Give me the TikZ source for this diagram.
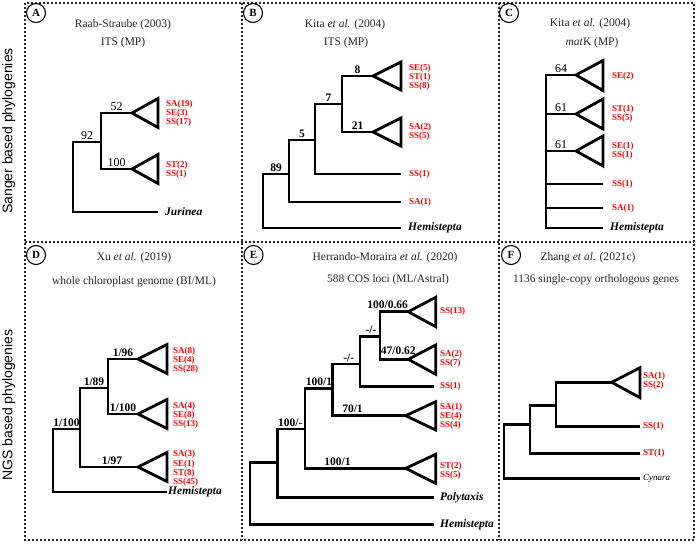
\documentclass[tikz,border=0pt]{standalone}
\usepackage{fontspec}
\setmainfont{Liberation Serif}
\newfontfamily\sidefont{Liberation Sans}
\begin{document}
\begin{tikzpicture}[x=1pt,y=-1pt,
  tbr/.style={line width=2.8pt, line join=miter},
  dashframe/.style={line width=1.2pt, dash pattern=on 2pt off 2pt, black!85},
  clabel/.style={circle, draw, line width=1.1pt, minimum size=19pt, inner sep=0pt, fill=white, font=\bfseries\fontsize{11}{11}\selectfont},
  ttl/.style={inner sep=0pt, text=black!85, font=\fontsize{11.5}{12}\selectfont},
  supr/.style={inner sep=0pt, anchor=base, font=\fontsize{12}{12}\selectfont},
  supb/.style={inner sep=0pt, anchor=base, font=\bfseries\fontsize{11.5}{12}\selectfont},
  redlab/.style={inner sep=0pt, anchor=west, align=left, text=red, font=\bfseries\fontsize{9}{7.8}\selectfont},
  taxon/.style={inner sep=0pt, anchor=west, font=\bfseries\itshape\fontsize{11.5}{12}\selectfont},
  sidelab/.style={inner sep=0pt, rotate=90, anchor=base, font=\sidefont\fontsize{14}{14}\selectfont},
]
\useasboundingbox (0,0) rectangle (700,543);
% ---------- frame ----------
\draw[dashframe] (25,3) rectangle (694,540);
\draw[dashframe] (25,242) -- (694,242);
\draw[dashframe] (242,3) -- (242,540);
\draw[dashframe] (499,3) -- (499,540);
\node[sidelab] (side1) at (12.5,131) {Sanger based phylogenies};
\node[sidelab] (side2) at (12.5,405) {NGS based phylogenies};
% ---------- circle labels ----------
\node[clabel] (lA) at (36,13) {A};
\node[clabel] (lB) at (253,13) {B};
\node[clabel] (lC) at (509,13) {C};
\node[clabel] (lD) at (36,255) {D};
\node[clabel] (lE) at (253.5,255) {E};
\node[clabel] (lF) at (511,255) {F};
% ---------- titles ----------
\node[ttl] (tA1) at (123,25) {Raab-Straube (2003)};
\node[ttl] (tA2) at (123,43) {ITS (MP)};
\node[ttl] (tB1) at (345,25) {Kita \textit{et al.} (2004)};
\node[ttl] (tB2) at (346,43) {ITS (MP)};
\node[ttl] (tC1) at (590,24) {Kita \textit{et al.} (2004)};
\node[ttl] (tC2) at (592,43) {\textit{mat}K (MP)};
\node[ttl] (tD1) at (134,258) {Xu \textit{et al.} (2019)};
\node[ttl] (tD2) at (134,282) {whole chloroplast genome (BI/ML)};
\node[ttl] (tE1) at (385,258) {Herrando-Moraira \textit{et al.} (2020)};
\node[ttl] (tE2) at (388,280) {588 COS loci (ML/Astral)};
\node[ttl] (tF1) at (588,258) {Zhang \textit{et al.} (2021c)};
\node[ttl] (tF2) at (596,280) {1136 single-copy orthologous genes};

% ================= Panel A =================
\coordinate (a-r) at (73,177);
\coordinate (a-n1) at (101,142);
\coordinate (a-jur) at (158,212);
\coordinate (a-t1) at (132,113);
\coordinate (a-t2) at (132,169);
\draw[tbr] (a-n1) -| (a-r) |- (a-jur);
\draw[tbr] (a-t1) -| (a-n1) |- (a-t2);
\draw[tbr] (a-t1) -- (158,98.5) -- (158,127.5) -- cycle;
\draw[tbr] (a-t2) -- (158,154.5) -- (158,183.5) -- cycle;
\node[supr] (a-s92) at (87,139) {92};
\node[supr] (a-s52) at (116.5,110) {52};
\node[supr] (a-s100) at (116.5,166) {100};
\node[redlab] (a-c1) at (166,113) {SA(19)\\SE(3)\\SS(17)};
\node[redlab] (a-c2) at (166,169.5) {ST(2)\\SS(1)};
\node[taxon] (a-jl) at (165,212) {Jurinea};

% ================= Panel B =================
\coordinate (b-r) at (263,200);
\coordinate (b-n89) at (289,174);
\coordinate (b-n5) at (315,140);
\coordinate (b-n7) at (342,104);
\coordinate (b-t8) at (373,76);
\coordinate (b-t21) at (373,132);
\coordinate (b-ss1) at (401,174);
\coordinate (b-sa1) at (401,202);
\coordinate (b-hem) at (401,228);
\draw[tbr] (b-n89) -| (b-r) |- (b-hem);
\draw[tbr] (b-n5) -| (b-n89) |- (b-sa1);
\draw[tbr] (b-n7) -| (b-n5) |- (b-ss1);
\draw[tbr] (b-t8) -| (b-n7) |- (b-t21);
\draw[tbr] (b-t8) -- (401,62) -- (401,90) -- cycle;
\draw[tbr] (b-t21) -- (401,118) -- (401,146) -- cycle;
\node[supb] (b-s89) at (276,171) {89};
\node[supb] (b-s5) at (302,137) {5};
\node[supb] (b-s7) at (328.5,101) {7};
\node[supb] (b-s8) at (357.5,73) {8};
\node[supb] (b-s21) at (357.5,129) {21};
\node[redlab] (b-c1) at (409,77) {SE(5)\\ST(1)\\SS(8)};
\node[redlab] (b-c2) at (409,132) {SA(2)\\SS(5)};
\node[redlab] (b-c3) at (409,174) {SS(1)};
\node[redlab] (b-c4) at (409,202) {SA(1)};
\node[taxon] (b-hl) at (408,228) {Hemistepta};

% ================= Panel C =================
\coordinate (c-r) at (546,150);
\coordinate (c-t1) at (576,75);
\coordinate (c-t2) at (576,114);
\coordinate (c-t3) at (576,151);
\coordinate (c-ss1) at (603,184);
\coordinate (c-sa1) at (603,208);
\coordinate (c-hem) at (603,228);
\draw[tbr] (c-t1) -| (c-r) |- (c-hem);
\draw[tbr] (c-r |- c-t2) -- (c-t2);
\draw[tbr] (c-r |- c-t3) -- (c-t3);
\draw[tbr] (c-r |- c-ss1) -- (c-ss1);
\draw[tbr] (c-r |- c-sa1) -- (c-sa1);
\draw[tbr] (c-t1) -- (603,60.5) -- (603,90.5) -- cycle;
\draw[tbr] (c-t2) -- (603,99) -- (603,129) -- cycle;
\draw[tbr] (c-t3) -- (603,136) -- (603,166) -- cycle;
\node[supr] (c-s64) at (561,72) {64};
\node[supr] (c-s61a) at (561,111) {61};
\node[supr] (c-s61b) at (561,148) {61};
\node[redlab] (c-c1) at (612,76) {SE(2)};
\node[redlab] (c-c2) at (612,114) {ST(1)\\SS(5)};
\node[redlab] (c-c3) at (612,151) {SE(1)\\SS(1)};
\node[redlab] (c-c4) at (612,184) {SS(1)};
\node[redlab] (c-c5) at (612,208) {SA(1)};
\node[taxon] (c-hl) at (610,228) {Hemistepta};

% ================= Panel D =================
\coordinate (d-r) at (53,460);
\coordinate (d-n1) at (80,429);
\coordinate (d-n2) at (108,388);
\coordinate (d-t1) at (138,359);
\coordinate (d-t2) at (138,414);
\coordinate (d-t3) at (138,467);
\coordinate (d-hem) at (167,492);
\draw[tbr] (d-n1) -| (d-r) |- (d-hem);
\draw[tbr] (d-n2) -| (d-n1) |- (d-t3);
\draw[tbr] (d-t1) -| (d-n2) |- (d-t2);
\draw[tbr] (d-t1) -- (167,344.5) -- (167,373.5) -- cycle;
\draw[tbr] (d-t2) -- (167,399.5) -- (167,428.5) -- cycle;
\draw[tbr] (d-t3) -- (167,452.5) -- (167,481.5) -- cycle;
\node[supb] (d-s1) at (66.5,426) {1/100};
\node[supb] (d-s2) at (94,385) {1/89};
\node[supb] (d-s3) at (123,356) {1/96};
\node[supb] (d-s4) at (123,411) {1/100};
\node[supb] (d-s5) at (112,464) {1/97};
\node[redlab] (d-c1) at (173,360) {SA(8)\\SE(4)\\SS(28)};
\node[redlab] (d-c2) at (173,415) {SA(4)\\SE(8)\\SS(13)};
\node[redlab, font=\bfseries\fontsize{9}{7.6}\selectfont] (d-c3) at (173,468.5) {SA(3)\\SE(1)\\ST(8)\\SS(45)};
\node[taxon] (d-hl) at (168,492) {Hemistepta};

% ================= Panel E =================
\coordinate (e-r) at (250,500);
\coordinate (e-n1) at (277.3,462.3);
\coordinate (e-n2) at (305,429);
\coordinate (e-n3) at (332.7,388.3);
\coordinate (e-n4) at (360,364);
\coordinate (e-n5) at (380,336.7);
\coordinate (e-t1) at (408.3,311.7);
\coordinate (e-t2) at (408.3,359.3);
\coordinate (e-t3) at (405.7,415.7);
\coordinate (e-t4) at (405.7,468.3);
\coordinate (e-ss1) at (434.3,386.7);
\coordinate (e-pol) at (434.3,497.7);
\coordinate (e-hem) at (434.3,524.3);
\draw[tbr] (e-n1) -| (e-r) |- (e-hem);
\draw[tbr] (e-n2) -| (e-n1) |- (e-pol);
\draw[tbr] (e-n3) -| (e-n2) |- (e-t4);
\draw[tbr] (e-n4) -| (e-n3) |- (e-t3);
\draw[tbr] (e-n5) -| (e-n4) |- (e-ss1);
\draw[tbr] (e-t1) -| (e-n5) |- (e-t2);
\draw[tbr] (e-t1) -- (435.7,297.3) -- (435.7,326.7) -- cycle;
\draw[tbr] (e-t2) -- (435.7,345) -- (435.7,374.3) -- cycle;
\draw[tbr] (e-t3) -- (435.7,401.7) -- (435.7,430) -- cycle;
\draw[tbr] (e-t4) -- (435.7,454.3) -- (435.7,483.3) -- cycle;
\node[supb] (e-s1) at (290.3,426) {100/-};
\node[supb] (e-s2) at (319,385.3) {100/1};
\node[supb] (e-s3) at (348.8,361) {-/-};
\node[supb] (e-s4) at (371,333.7) {-/-};
\node[supb] (e-s5) at (387.7,308.7) {100/0.66};
\node[supb] (e-s6) at (398.3,354.5) {47/0.62};
\node[supb] (e-s7) at (352.5,412.7) {70/1};
\node[supb] (e-s8) at (337.5,465.3) {100/1};
\node[redlab] (e-c1) at (440,311.7) {SS(13)};
\node[redlab] (e-c2) at (440,358.5) {SA(2)\\SS(7)};
\node[redlab] (e-c3) at (440,386.7) {SS(1)};
\node[redlab] (e-c4) at (440,416) {SA(1)\\SE(4)\\SS(4)};
\node[redlab] (e-c5) at (440,470.5) {ST(2)\\SS(5)};
\node[taxon] (e-pl) at (440,497.7) {Polytaxis};
\node[taxon] (e-hl) at (440,524.3) {Hemistepta};

% ================= Panel F =================
\coordinate (f-r) at (504,450);
\coordinate (f-n1) at (530,424.3);
\coordinate (f-n2) at (556,405.7);
\coordinate (f-t1) at (611.7,382.3);
\coordinate (f-ss1) at (640,426.7);
\coordinate (f-st1) at (640,453.3);
\coordinate (f-cyn) at (640,478.3);
\draw[tbr] (f-n1) -| (f-r) |- (f-cyn);
\draw[tbr] (f-n2) -| (f-n1) |- (f-st1);
\draw[tbr] (f-t1) -| (f-n2) |- (f-ss1);
\draw[tbr] (f-t1) -- (640,367.7) -- (640,397.7) -- cycle;
\node[redlab] (f-c1) at (643,381) {SA(1)\\SS(2)};
\node[redlab] (f-c2) at (643,426.7) {SS(1)};
\node[redlab] (f-c3) at (643,453.3) {ST(1)};
\node[inner sep=0pt, anchor=west, font=\itshape\fontsize{9}{10}\selectfont] (f-cl) at (643,478.3) {Cynara};
\end{tikzpicture}
\end{document}
